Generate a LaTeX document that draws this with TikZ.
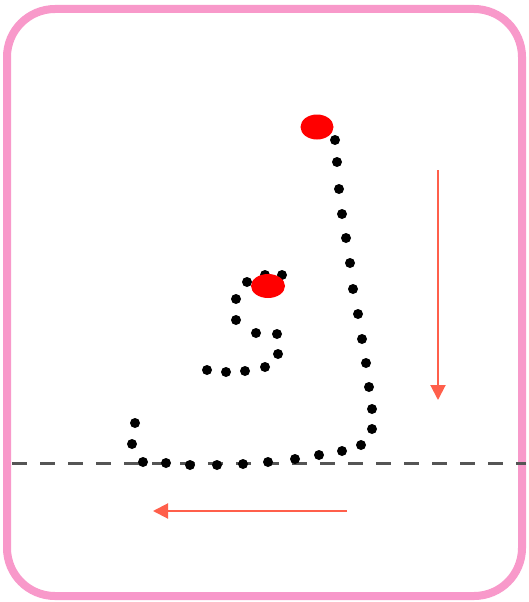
\documentclass[tikz,border=0pt]{standalone}
\usetikzlibrary{arrows.meta,shapes.geometric}
\definecolor{framepink}{RGB}{248,153,202}
\definecolor{arrowred}{RGB}{255,95,75}
\definecolor{dashgray}{RGB}{85,85,85}
\definecolor{markred}{RGB}{255,0,0}
\begin{document}
\begin{tikzpicture}[x=1pt,y=-1pt,
  dotnode/.style={circle,fill=black,inner sep=0pt,minimum size=10pt},
  marknode/.style={ellipse,fill=markred,inner sep=0pt,minimum width=33pt,minimum height=25pt},
  dirarrow/.style={draw=arrowred,line width=2pt,-{Triangle[length=15pt,width=15pt]}},
  baseguide/.style={draw=dashgray,line width=3pt,dash pattern=on 15pt off 13pt}]
\useasboundingbox (0,0) rectangle (529,602);
\fill[white] (0,0) rectangle (529,602);
\draw[framepink,line width=8pt,rounded corners=48pt] (7,9) rectangle (522,596);
% baseline
\coordinate (bl) at (12,463);
\coordinate (br) at (526,463);
\draw[baseguide] (bl) -- (br);
% long stroke dots
\foreach \i/\x/\y in {1/335/140,2/337/162,3/339/189,4/342/214,5/346/238,6/350/263,7/353/289,8/358/314,9/362/339,10/366/363,11/369/387,12/372/409,13/372/429,14/361/445,15/342/451,16/319/455,17/295/459,18/268/462,19/243/464,20/217/465,21/190/465,22/166/463,23/143/462,24/132/444,25/135/423}
  \node[dotnode] (a\i) at (\x,\y) {};
% small stroke dots
\foreach \i/\x/\y in {1/265/275,2/282/275,3/247/282,4/236/299,5/236/320,6/256/333,7/277/334,8/278/354,9/265/367,10/245/371,11/226/372,12/207/370}
  \node[dotnode] (b\i) at (\x,\y) {};
% start markers
\node[marknode] (m1) at (317,127) {};
\node[marknode,minimum width=34pt,minimum height=24pt] (m2) at (268,286) {};
% direction arrows
\coordinate (v1) at (438,170);
\coordinate (v2) at (438,400);
\draw[dirarrow] (v1) -- (v2);
\coordinate (h1) at (347,511);
\coordinate (h2) at (153,511);
\draw[dirarrow] (h1) -- (h2);
\end{tikzpicture}
\end{document}
